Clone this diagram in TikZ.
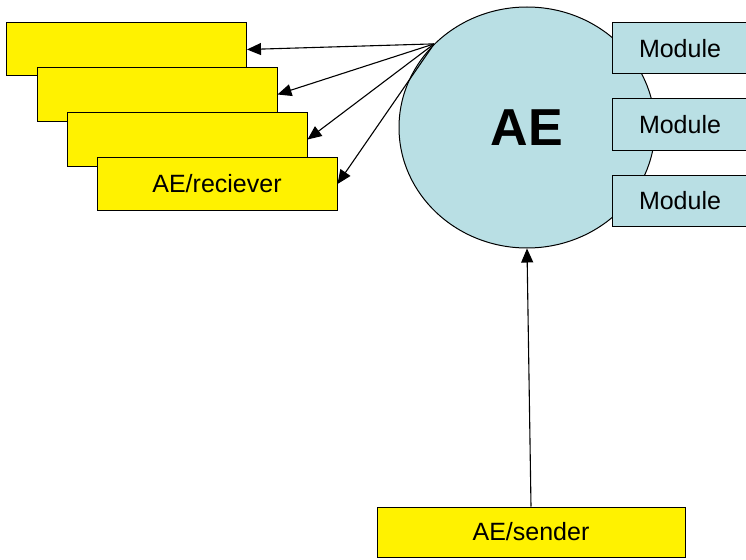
\documentclass[tikz,border=0pt]{standalone}
\usepackage{fontspec}
\setmainfont{Liberation Sans}
\usetikzlibrary{arrows.meta,shapes.geometric}
\definecolor{aeblue}{RGB}{185,223,228}
\begin{document}
\begin{tikzpicture}[x=1pt,y=-1pt,line width=1pt,recv box/.style={rectangle,draw,fill=yellow,minimum width=240pt,minimum height=53pt,inner sep=0pt,font=\fontsize{25}{30}\selectfont},mod box/.style={rectangle,draw,fill=aeblue,minimum width=136pt,minimum height=51pt,inner sep=0pt,font=\fontsize{25}{30}\selectfont}]%fill=yellow,
\useasboundingbox (0,0) rectangle (746,559);
\begin{scope}
\node[recv box] (r1) at (126.5,49.5) {};%1
\node[recv box] (r2) at (157,94.5) {};%2
\node[recv box] (r3) at (187,139.5) {};%3
\node[recv box] (r4) at (217,184) {AE/reciever};%4
\node[ellipse,draw,fill=aeblue,minimum width=256pt,minimum height=241pt,inner sep=0pt,font=\bfseries\fontsize{52}{60}\selectfont] (ae) at (527,127.5) {AE};
\node[mod box] (m1) at (680,48.5) {Module};
\node[mod box] (m2) at (680,124.5) {Module};
\node[mod box] (m3) at (680,200.5) {Module};
\node[recv box,minimum width=308pt,minimum height=50pt] (snd) at (531,532) {AE/sender};
\end{scope}
\begin{scope}[every edge/.style={draw=black,line width=1.1pt,-{Triangle[length=14pt,width=12pt]}}]
\draw  (ae.138) edge node{} (r1.east);
\draw  (ae.138) edge node{} (r2.east);
\draw  (ae.138) edge node{} (r3.east);
\draw  (ae.138) edge node{} (r4.east);
\draw  (snd.north) edge node{} (ae.south);
\end{scope}
\end{tikzpicture}
\end{document}
